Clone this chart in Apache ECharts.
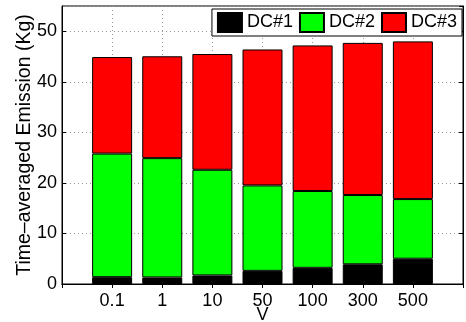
<!DOCTYPE html>
<html><head><meta charset="utf-8">
<script src="https://cdn.jsdelivr.net/npm/echarts@6/dist/echarts.min.js"></script>
<style>html,body{margin:0;padding:0;background:#fff}#c{width:466px;height:322px}</style>
</head><body><div id="c"></div>
<script>
const categories = ['0.1', '1', '10', '50', '100', '300', '500'];
const dc1 = [1.35, 1.3, 1.7, 2.6, 3.2, 3.9, 5.0];
const dc2 = [24.45, 23.6, 20.9, 16.9, 15.2, 13.7, 11.8];
const dc3 = [19.1, 20.15, 22.9, 26.9, 28.8, 30.1, 31.2];
const seriesNames = ['DC#1', 'DC#2', 'DC#3'];
const colors = ['#000000', '#00ff00', '#ff0000'];

// pad categories so that bar centres sit at 1..7 of a 0..8 range
const xCats = [''].concat(categories, ['']);
const pad = arr => [null].concat(arr, [null]);
const font = 'Liberation Sans, Arial, sans-serif';

const chart = echarts.init(document.getElementById('c'), null, {renderer: 'canvas'});
const gridLine = {show: true, lineStyle: {color: '#999', type: [1, 3], width: 1}};
chart.setOption({
  animation: false,
  grid: {left: 62, right: 3, top: 6, bottom: 38, show: true, borderColor: '#000', borderWidth: 1,
         outerBoundsMode: 'none', containLabel: false},
  legend: {
    right: 4, top: 9, padding: [3, 5], itemGap: 6,
    itemWidth: 24, itemHeight: 19,
    backgroundColor: '#fff', borderColor: '#000', borderWidth: 1,
    textStyle: {fontSize: 18, color: '#000', fontFamily: font},
    data: seriesNames.map(n => ({name: n, icon: 'rect'}))
  },
  xAxis: [{
    type: 'category', data: xCats, boundaryGap: false,
    axisLine: {lineStyle: {color: '#000'}},
    axisTick: {inside: true, length: 4, lineStyle: {color: '#000'}},
    axisLabel: {fontSize: 18, color: '#000', fontFamily: font, margin: 8, interval: 0},
    splitLine: gridLine,
    name: 'V', nameLocation: 'middle', nameGap: 22, nameMoveOverlap: false,
    nameTextStyle: {fontSize: 18, color: '#000', fontFamily: font}
  }, {
    type: 'category', data: xCats, boundaryGap: false, position: 'top',
    axisLine: {lineStyle: {color: '#000'}},
    axisTick: {inside: true, length: 4, lineStyle: {color: '#000'}},
    axisLabel: {show: false}, splitLine: {show: false}
  }],
  yAxis: [{
    type: 'value', min: 0, max: 55, interval: 10,
    axisLine: {show: true, lineStyle: {color: '#000'}},
    axisTick: {show: true, inside: true, length: 4, lineStyle: {color: '#000'}},
    axisLabel: {fontSize: 18, color: '#000', fontFamily: font, margin: 5, showMaxLabel: false},
    splitLine: gridLine,
    name: 'Time–averaged Emission (Kg)', nameLocation: 'middle', nameGap: 27, nameMoveOverlap: false,
    nameTextStyle: {fontSize: 19.5, color: '#000', fontFamily: font}
  }, {
    type: 'value', min: 0, max: 55, interval: 10, position: 'right',
    axisLine: {show: true, lineStyle: {color: '#000'}},
    axisTick: {show: true, inside: true, length: 4, lineStyle: {color: '#000'}},
    axisLabel: {show: false}, splitLine: {show: false}
  }],
  series: [dc1, dc2, dc3].map((d, i) => ({
    name: seriesNames[i], type: 'bar', stack: 'total', data: pad(d),
    barWidth: 40,
    itemStyle: {color: colors[i], borderColor: '#000', borderWidth: 1}
  }))
});
</script></body></html>
